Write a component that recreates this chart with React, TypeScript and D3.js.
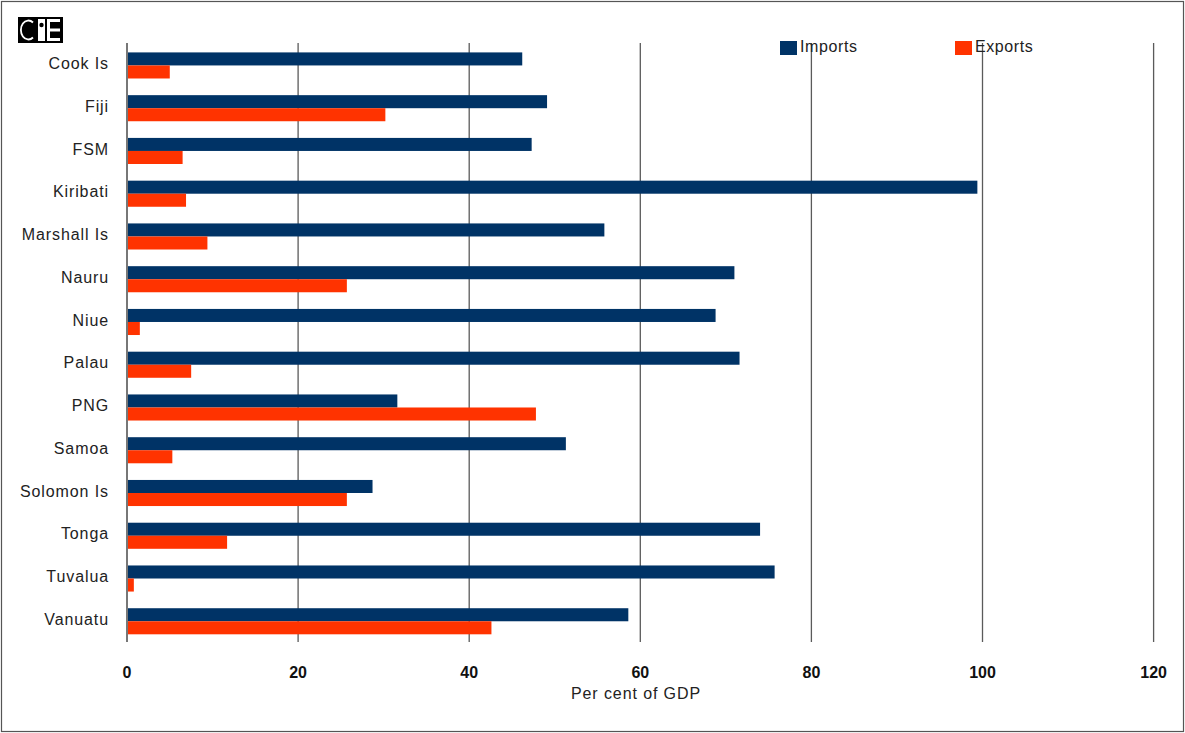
import React from "react";
import * as d3 from "d3";

const categories = [
  "Cook Is", "Fiji", "FSM", "Kiribati", "Marshall Is", "Nauru", "Niue",
  "Palau", "PNG", "Samoa", "Solomon Is", "Tonga", "Tuvalua", "Vanuatu",
];
const imports = [46.2, 49.1, 47.3, 99.4, 55.8, 71.0, 68.8, 71.6, 31.6, 51.3, 28.7, 74.0, 75.7, 58.6];
const exports = [5.0, 30.2, 6.5, 6.9, 9.4, 25.7, 1.5, 7.5, 47.8, 5.3, 25.7, 11.7, 0.8, 42.6];
const xTicks = [0, 20, 40, 60, 80, 100, 120];
const seriesNames = ["Imports", "Exports"];

const W = 1185;
const H = 733;
const FONT = "'Liberation Sans', Arial, sans-serif";
const IMP = "#003366";
const EXP = "#ff3300";

export default function App() {
  const x = d3.scaleLinear().domain([0, 120]).range([127, 1153.6]);
  const y = d3.scaleBand<string>().domain(categories).range([43, 642]).paddingInner(0.39).paddingOuter(0.2).align(0.55);
  const bh = y.bandwidth() / 2;

  return (
    <svg width={W} height={H} style={{ position: "absolute", left: 0, top: 0, background: "#fff" }}>
      <rect x={1.5} y={1.5} width={W - 3} height={H - 3} fill="none" stroke="#555" strokeWidth={1.2} />

      {/* logo */}
      <g>
        <rect x={18} y={17} width={45} height={26} fill="#000" />
        <path d="M 33 22.5 A 7.5 9.5 0 1 0 33 37.5" fill="none" stroke="#fff" strokeWidth={1.8} />
        <rect x={38} y={19} width={7} height={22} fill="#fff" />
        <circle cx={41.5} cy={25} r={2.2} fill="#000" />
        <rect x={47} y={19} width={3} height={22} fill="#fff" />
        <rect x={47} y={19} width={13} height={3} fill="#fff" />
        <rect x={47} y={28.5} width={13} height={3} fill="#fff" />
        <rect x={47} y={38} width={13} height={3} fill="#fff" />
      </g>

      {/* gridlines */}
      {xTicks.map((t) => (
        <line key={t} x1={x(t)} x2={x(t)} y1={43} y2={642} stroke="#5a5a5a" strokeWidth={1.3} />
      ))}

      {/* bars */}
      {categories.map((c, i) => (
        <g key={c}>
          <rect x={x(0)} y={y(c)!} width={x(imports[i]) - x(0)} height={bh} fill={IMP} />
          <rect x={x(0)} y={y(c)! + bh} width={x(exports[i]) - x(0)} height={bh} fill={EXP} />
        </g>
      ))}

      {/* axis line */}
      <line x1={x(0)} x2={x(0)} y1={43} y2={642} stroke="#777" strokeWidth={2} />

      {/* category labels */}
      {categories.map((c) => (
        <text key={c} x={109} y={y(c)! + bh - 2} dy="0.35em" textAnchor="end" fontFamily={FONT} fontSize={16} letterSpacing={0.9} fill="#222">
          {c}
        </text>
      ))}

      {/* x tick labels */}
      {xTicks.map((t) => (
        <text key={t} x={x(t)} y={678} textAnchor="middle" fontFamily={FONT} fontSize={16} fontWeight="bold" fill="#111">
          {t}
        </text>
      ))}
      <text x={636} y={699} textAnchor="middle" fontFamily={FONT} fontSize={16} letterSpacing={0.9} fill="#222">Per cent of GDP</text>

      {/* legend */}
      <rect x={780} y={41} width={17} height={14} fill={IMP} />
      <text x={800} y={52} fontFamily={FONT} fontSize={16} letterSpacing={0.6} fill="#222">{seriesNames[0]}</text>
      <rect x={955} y={41} width={17} height={14} fill={EXP} />
      <text x={975} y={52} fontFamily={FONT} fontSize={16} letterSpacing={0.6} fill="#222">{seriesNames[1]}</text>
    </svg>
  );
}
